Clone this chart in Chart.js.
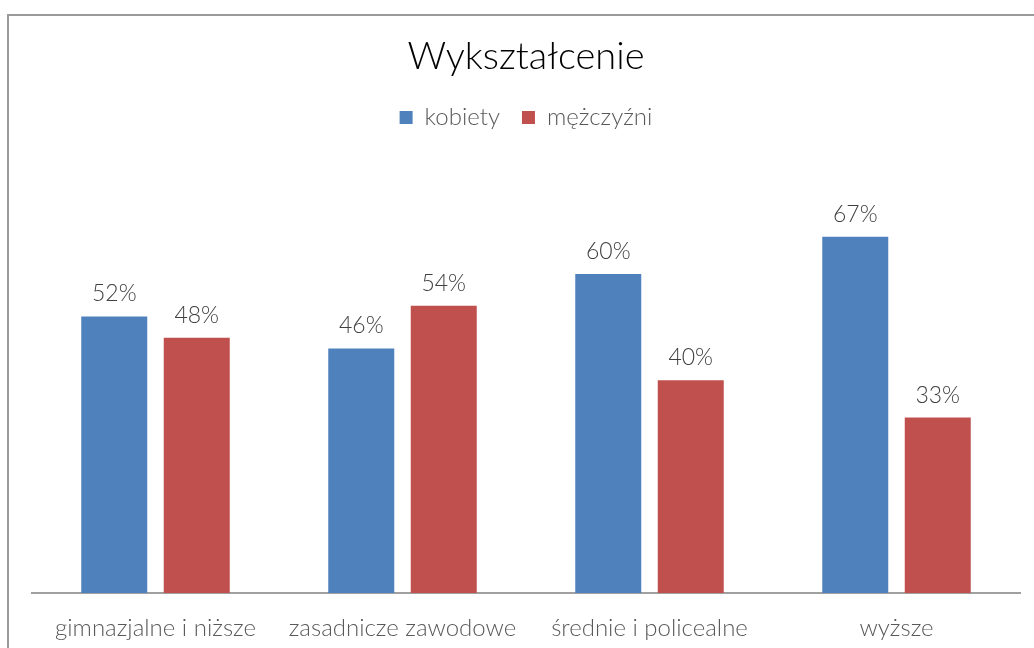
<!DOCTYPE html>
<html>
<head>
<meta charset="utf-8">
<script src="https://cdn.jsdelivr.net/npm/chart.js@4/dist/chart.umd.min.js"></script>
<style>
    html, body { margin: 0; padding: 0; background: #fff; }
    #wrap { position: relative; width: 1034px; height: 648px; overflow: hidden; }
    #frame { position: absolute; left: 7px; top: 14px; width: 1100px; height: 700px; border: 2px solid #9a9a9a; box-sizing: border-box; }
    canvas { position: absolute; left: 0; top: 0; }
</style>
</head>
<body>
<div id="wrap">
    <div id="frame"></div>
    <canvas id="eduChart" width="1034" height="648"></canvas>
</div>
<script>
const categories = ['gimnazjalne i niższe', 'zasadnicze zawodowe', 'średnie i policealne', 'wyższe'];
const seriesNames = ['kobiety', 'mężczyźni'];
const kobiety = [52, 46, 60, 67];
const mezczyzni = [48, 54, 40, 33];

const FONT = 'Lato, "Open Sans", sans-serif';

// draws "52%" etc. above each bar
const barLabels = {
    id: 'barLabels',
    afterDatasetsDraw(chart) {
        const ctx = chart.ctx;
        ctx.save();
        ctx.font = '300 23px ' + FONT;
        ctx.fillStyle = '#404040';
        ctx.textAlign = 'center';
        ctx.textBaseline = 'alphabetic';
        chart.data.datasets.forEach((ds, i) => {
            chart.getDatasetMeta(i).data.forEach((bar, j) => {
                ctx.fillText(ds.data[j] + '%', bar.x, bar.y - 15);
            });
        });
        ctx.restore();
    }
};

// extra gap between legend and plot area
const legendGap = {
    id: 'legendGap',
    beforeInit(chart) {
        const fit = chart.legend.fit;
        chart.legend.fit = function () {
            fit.call(this);
            this.height += 28;
        };
    }
};

new Chart(document.getElementById('eduChart').getContext('2d'), {
    type: 'bar',
    data: {
        labels: categories,
        datasets: [{
            label: seriesNames[0],
            data: kobiety,
            backgroundColor: '#4f81bd'
        }, {
            label: seriesNames[1],
            data: mezczyzni,
            backgroundColor: '#c0504d'
        }]
    },
    options: {
        responsive: false,
        animation: false,
        categoryPercentage: 0.668,
        barPercentage: 0.8,
        layout: {
            padding: { left: 32, right: 14, top: 34, bottom: 0 }
        },
        plugins: {
            title: {
                display: true,
                text: 'Wykształcenie',
                color: '#000',
                font: { family: FONT, size: 38, weight: '300' },
                padding: { top: 0, bottom: 4 }
            },
            legend: {
                position: 'top',
                labels: {
                    boxWidth: 13,
                    boxHeight: 13,
                    padding: 22,
                    color: '#595959',
                    font: { family: FONT, size: 24, weight: '300' }
                }
            },
            tooltip: { enabled: false }
        },
        scales: {
            x: {
                grid: { display: false, drawTicks: false },
                border: { display: true, color: '#a0a0a0', width: 2 },
                ticks: {
                    color: '#595959',
                    padding: 21,
                    font: { family: FONT, size: 24, weight: '300' }
                },
                afterFit(scale) {
                    scale.height = 55;
                }
            },
            y: {
                display: false,
                min: 0,
                max: 80
            }
        }
    },
    plugins: [barLabels, legendGap]
});
</script>
</body>
</html>
